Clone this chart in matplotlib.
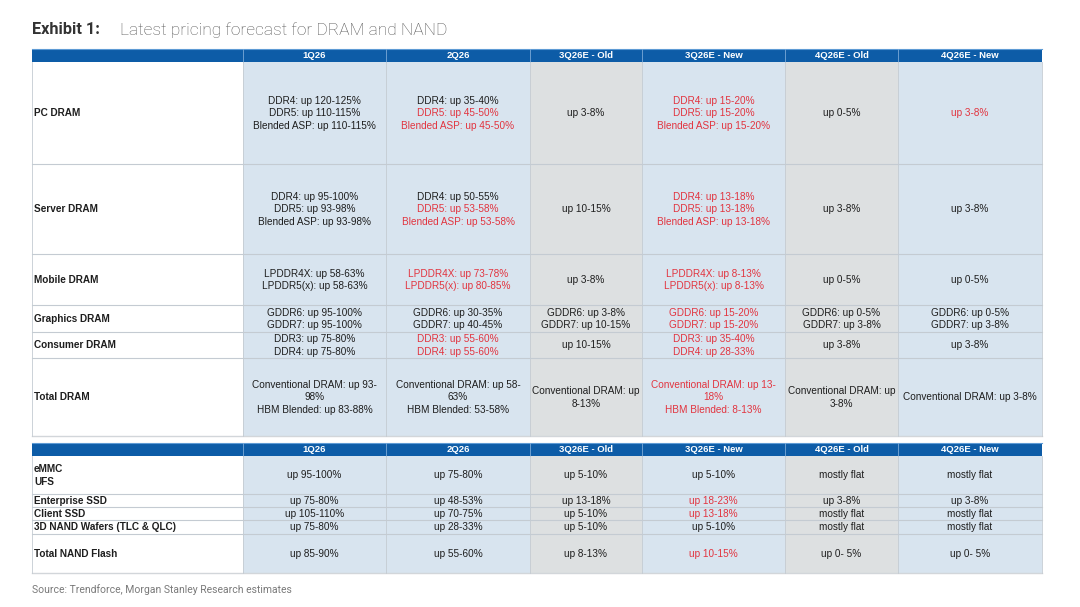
import matplotlib.pyplot as plt
from matplotlib.patches import Rectangle

# ---- data ----
col_headers = ["1Q26", "2Q26", "3Q26E - Old", "3Q26E - New", "4Q26E - Old", "4Q26E - New"]
old_cols = [2, 4]  # gray shaded columns

dram_rows = ["PC DRAM", "Server DRAM", "Mobile DRAM", "Graphics DRAM", "Consumer DRAM", "Total DRAM"]
# lines starting with "*" are printed in red (revised numbers)
dram_cells = [
    ["DDR4: up 120-125%\nDDR5: up 110-115%\nBlended ASP: up 110-115%",
     "DDR4: up 35-40%\n*DDR5: up 45-50%\n*Blended ASP: up 45-50%",
     "up 3-8%",
     "*DDR4: up 15-20%\n*DDR5: up 15-20%\n*Blended ASP: up 15-20%",
     "up 0-5%",
     "*up 3-8%"],
    ["DDR4: up 95-100%\nDDR5: up 93-98%\nBlended ASP: up 93-98%",
     "DDR4: up 50-55%\n*DDR5: up 53-58%\n*Blended ASP: up 53-58%",
     "up 10-15%",
     "*DDR4: up 13-18%\n*DDR5: up 13-18%\n*Blended ASP: up 13-18%",
     "up 3-8%",
     "up 3-8%"],
    ["LPDDR4X: up 58-63%\nLPDDR5(x): up 58-63%",
     "*LPDDR4X: up 73-78%\n*LPDDR5(x): up 80-85%",
     "up 3-8%",
     "*LPDDR4X: up 8-13%\n*LPDDR5(x): up 8-13%",
     "up 0-5%",
     "up 0-5%"],
    ["GDDR6: up 95-100%\nGDDR7: up 95-100%",
     "GDDR6: up 30-35%\nGDDR7: up 40-45%",
     "GDDR6: up 3-8%\nGDDR7: up 10-15%",
     "*GDDR6: up 15-20%\n*GDDR7: up 15-20%",
     "GDDR6: up 0-5%\nGDDR7: up 3-8%",
     "GDDR6: up 0-5%\nGDDR7: up 3-8%"],
    ["DDR3: up 75-80%\nDDR4: up 75-80%",
     "*DDR3: up 55-60%\n*DDR4: up 55-60%",
     "up 10-15%",
     "*DDR3: up 35-40%\n*DDR4: up 28-33%",
     "up 3-8%",
     "up 3-8%"],
    ["Conventional DRAM: up 93-\n98%\nHBM Blended: up 83-88%",
     "Conventional DRAM: up 58-\n63%\nHBM Blended: 53-58%",
     "Conventional DRAM: up\n8-13%",
     "*Conventional DRAM: up 13-\n*18%\n*HBM Blended: 8-13%",
     "Conventional DRAM: up\n3-8%",
     "Conventional DRAM: up 3-8%"],
]

nand_rows = ["eMMC\nUFS", "Enterprise SSD", "Client SSD", "3D NAND Wafers (TLC & QLC)", "Total NAND Flash"]
nand_cells = [
    ["up 95-100%", "up 75-80%", "up 5-10%", "up 5-10%", "mostly flat", "mostly flat"],
    ["up 75-80%", "up 48-53%", "up 13-18%", "*up 18-23%", "up 3-8%", "up 3-8%"],
    ["up 105-110%", "up 70-75%", "up 5-10%", "*up 13-18%", "mostly flat", "mostly flat"],
    ["up 75-80%", "up 28-33%", "up 5-10%", "up 5-10%", "mostly flat", "mostly flat"],
    ["up 85-90%", "up 55-60%", "up 8-13%", "*up 10-15%", "up 0- 5%", "up 0- 5%"],
]

# ---- layout (pixel coordinates) ----
col_edges = [32, 243, 386, 530, 642, 785, 898, 1042]
dram_top, dram_head_h = 49, 13
dram_row_edges = [62, 164, 254, 305, 332, 358, 436]
nand_top, nand_head_h = 443, 13
nand_row_edges = [456, 494, 507, 520, 534, 573]

HEAD_BLUE = "#0D5CA7"
CELL_BLUE = "#D8E4EF"
CELL_GRAY = "#DDE0E1"
GRID = "#C4CBD2"
RED = "#E2343F"
TXT = "#1E1E1E"
FS = 7.2
LINE = 12.4

plt.rcParams['font.family'] = ['Liberation Sans', 'DejaVu Sans']

fig = plt.figure(figsize=(10.8, 6.07), dpi=100)
ax = fig.add_axes([0, 0, 1, 1])
ax.set_xlim(0, 1080)
ax.set_ylim(607, 0)
ax.axis("off")


def draw_table(top, head_h, row_edges, labels, cells):
    # header band
    ax.add_patch(Rectangle((col_edges[0], top), col_edges[-1] - col_edges[0], head_h,
                           facecolor=HEAD_BLUE, edgecolor="none"))
    ax.plot([col_edges[0], col_edges[-1]], [top, top], color="#5E9BD5", lw=0.8)
    for j, h in enumerate(col_headers):
        xc = (col_edges[j + 1] + col_edges[j + 2]) / 2
        ax.text(xc, top + head_h / 2 + 0.5, h, color="white", fontsize=6.8,
                fontweight="bold", ha="center", va="center")
        ax.plot([col_edges[j + 1]] * 2, [top, top + head_h], color="#7AA9D8", lw=0.6)
    y0, y1 = row_edges[0], row_edges[-1]
    # column shading
    for j in range(len(col_headers)):
        ax.add_patch(Rectangle((col_edges[j + 1], y0), col_edges[j + 2] - col_edges[j + 1], y1 - y0,
                               facecolor=CELL_GRAY if j in old_cols else CELL_BLUE,
                               edgecolor="none"))
    # grid
    for y in row_edges[1:-1]:
        ax.plot([col_edges[0], col_edges[-1]], [y, y], color=GRID, lw=0.8)
    ax.plot([col_edges[0], col_edges[-1]], [y1, y1], color="#D2D6DA", lw=1.0)
    for x in col_edges:
        ax.plot([x, x], [y0, y1], color=GRID, lw=0.6)
    # contents
    for i, lab in enumerate(labels):
        yc = (row_edges[i] + row_edges[i + 1]) / 2
        ax.text(col_edges[0] + 2, yc + 0.5, lab, fontsize=FS, fontweight="bold", color=TXT,
                ha="left", va="center", linespacing=1.45)
        for j, cell in enumerate(cells[i]):
            xc = (col_edges[j + 1] + col_edges[j + 2]) / 2
            lines = cell.split("\n")
            n = len(lines)
            for k, ln in enumerate(lines):
                red = ln.startswith("*")
                ax.text(xc, yc + 0.5 + (k - (n - 1) / 2) * LINE, ln.lstrip("*"), fontsize=FS,
                        color=RED if red else TXT, ha="center", va="center")


draw_table(dram_top, dram_head_h, dram_row_edges, dram_rows, dram_cells)
draw_table(nand_top, nand_head_h, nand_row_edges, nand_rows, nand_cells)

# title and source
ax.text(32, 30, "Exhibit 1:", fontsize=11.7, fontweight="bold", color="#333333",
        family="Roboto", va="center", ha="left")
ax.text(120, 30, "Latest pricing forecast for DRAM and NAND", fontsize=12.5, color="#555555",
        family="Roboto", fontweight="light", va="center", ha="left")
ax.text(32, 590, "Source: Trendforce, Morgan Stanley Research estimates", fontsize=7.5,
        color="#7A7A7A", family="Roboto", va="center", ha="left")

fig.savefig("out.png", dpi=100, facecolor="white")
